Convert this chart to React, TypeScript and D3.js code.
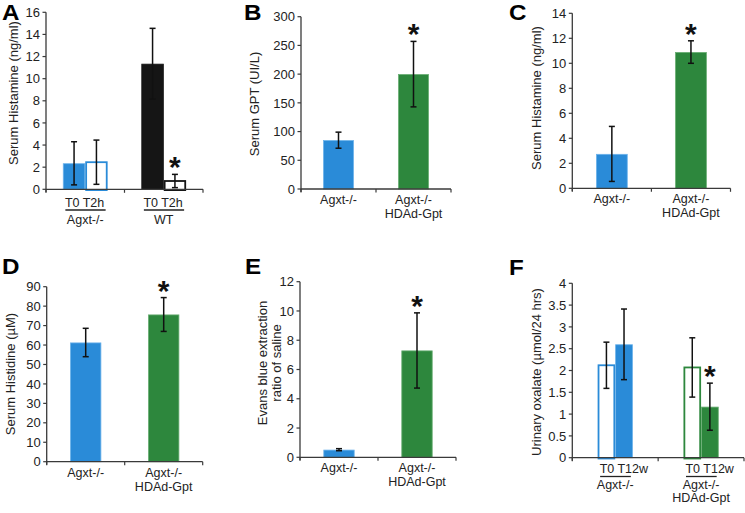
import React from "react";
import * as d3 from "d3";

const FONT = "'Liberation Sans', Arial, Helvetica, sans-serif";
const BLUE = "#2a8bd8";
const BLUE_EDGE = "#6cb2ea";
const GREEN = "#2d873d";
const GREEN_EDGE = "#68ad72";
const BLACK = "#151515";
const FS = 13;
const CFS = 12.5;

// ---- Data ----
const aGroups = ["Agxt-/-", "WT"];
const aTimes = "T0 T2h";
const aValues = [2.35, 2.45, 11.35, 0.75];
const aErrors = [1.95, 2.0, 3.2, 0.6];
const aTicks = [0, 2, 4, 6, 8, 10, 12, 14, 16];

const twoGroups = ["Agxt-/-", "Agxt-/-|HDAd-Gpt"];

const bValues = [85, 200];
const bErrors = [14, 57];
const bTicks = [0, 50, 100, 150, 200, 250, 300];

const cValues = [2.75, 10.9];
const cErrors = [2.2, 0.9];
const cTicks = [0, 2, 4, 6, 8, 10, 12, 14];

const dValues = [61.3, 75.7];
const dErrors = [7.3, 8.7];
const dTicks = [0, 10, 20, 30, 40, 50, 60, 70, 80, 90];

const eValues = [0.52, 7.3];
const eErrors = [0.07, 2.57];
const eTicks = [0, 2, 4, 6, 8, 10, 12];

const fTimes = "T0 T12w";
const fValues = [2.12, 2.6, 2.07, 1.17];
const fErrors = [0.53, 0.81, 0.68, 0.54];
const fTicks = [0, 0.5, 1, 1.5, 2, 2.5, 3, 3.5, 4];

type BarStyle = { fill: string; edge: string; outline: boolean };
const blueFill: BarStyle = { fill: BLUE, edge: BLUE_EDGE, outline: false };
const blueLine: BarStyle = { fill: BLUE, edge: BLUE, outline: true };
const greenFill: BarStyle = { fill: GREEN, edge: GREEN_EDGE, outline: false };
const greenLine: BarStyle = { fill: GREEN, edge: GREEN, outline: true };
const blackFill: BarStyle = { fill: BLACK, edge: BLACK, outline: false };
const blackLine: BarStyle = { fill: BLACK, edge: BLACK, outline: true };

type Spec = {
  letter: string;
  letterX: number;
  letterY: number;
  x0: number;
  x1: number;
  yTop: number;
  y0: number;
  ticks: number[];
  groups: string[];
  values: number[];
  errors: number[];
  styles: BarStyle[];
  perGroup: number;
  groupFrac: number;
  sub?: string;
  subOff?: [number, number, number];
  sig: number;
  yLabel: string[];
  yLabelX: number;
  yLabelY: number;
};

const specs: Spec[] = [
  {
    letter: "A", letterX: 2, letterY: 20,
    x0: 46, x1: 203, yTop: 12.3, y0: 189.3, ticks: aTicks,
    groups: aGroups, values: aValues, errors: aErrors,
    styles: [blueFill, blueLine, blackFill, blackLine], perGroup: 2, groupFrac: 0.57,
    sub: aTimes, subOff: [17.3, 20.7, 35], sig: 3,
    yLabel: ["Serum Histamine (ng/ml)"], yLabelX: 17.5, yLabelY: 93,
  },
  {
    letter: "B", letterX: 244, letterY: 20,
    x0: 301, x1: 451, yTop: 16.7, y0: 189, ticks: bTicks,
    groups: twoGroups, values: bValues, errors: bErrors,
    styles: [blueFill, greenFill], perGroup: 1, groupFrac: 0.41,
    sig: 1,
    yLabel: ["Serum GPT (UI/L)"], yLabelX: 259, yLabelY: 104,
  },
  {
    letter: "C", letterX: 509, letterY: 20,
    x0: 572.3, x1: 730.5, yTop: 13.3, y0: 188.3, ticks: cTicks,
    groups: twoGroups, values: cValues, errors: cErrors,
    styles: [blueFill, greenFill], perGroup: 1, groupFrac: 0.4,
    sig: 1,
    yLabel: ["Serum Histamine (ng/ml)"], yLabelX: 541, yLabelY: 98,
  },
  {
    letter: "D", letterX: 2, letterY: 274,
    x0: 46.7, x1: 202.7, yTop: 286.7, y0: 461.7, ticks: dTicks,
    groups: twoGroups, values: dValues, errors: dErrors,
    styles: [blueFill, greenFill], perGroup: 1, groupFrac: 0.4,
    sig: 1,
    yLabel: ["Serum Histidine (\u00b5M)"], yLabelX: 15, yLabelY: 374,
  },
  {
    letter: "E", letterX: 245, letterY: 274,
    x0: 300, x1: 456, yTop: 281.7, y0: 457.3, ticks: eTicks,
    groups: twoGroups, values: eValues, errors: eErrors,
    styles: [blueFill, greenFill], perGroup: 1, groupFrac: 0.4,
    sig: 1,
    yLabel: ["Evans blue extraction", "ratio of saline"], yLabelX: 267, yLabelY: 363,
  },
  {
    letter: "F", letterX: 509, letterY: 275,
    x0: 572.3, x1: 744, yTop: 283.3, y0: 457.7, ticks: fTicks,
    groups: twoGroups, values: fValues, errors: fErrors,
    styles: [blueLine, blueFill, greenLine, greenFill], perGroup: 2, groupFrac: 0.41,
    sub: fTimes, subOff: [15.5, 18.8, 31.5], sig: 3,
    yLabel: ["Urinary oxalate (\u00b5mol/24 hrs)"], yLabelX: 541, yLabelY: 372,
  },
];

function Panel({ s }: { s: Spec }) {
  const max = s.ticks[s.ticks.length - 1];
  const y = d3.scaleLinear().domain([0, max]).range([s.y0, s.yTop]);
  const x = d3.scaleBand().domain(s.groups).range([s.x0, s.x1]).paddingInner(0).paddingOuter(0);
  const bw = x.bandwidth();
  const gw = bw * s.groupFrac;
  const barW = gw / s.perGroup;
  const axisColor = "#3a3a3a";

  const bars = s.values.map((v, i) => {
    const g = s.groups[Math.floor(i / s.perGroup)];
    const j = i % s.perGroup;
    const left = (x(g) as number) + bw / 2 - gw / 2 + j * barW;
    return { v, e: s.errors[i], left, cx: left + barW / 2, st: s.styles[i] };
  });

  const boundaries = d3.range(s.groups.length + 1).map((k) => s.x0 + k * bw);
  const sigBar = bars[s.sig];

  return (
    <g>
      <text x={s.letterX} y={s.letterY} fontFamily={FONT} fontWeight={900} fontSize={22}
        fill="#000" transform={`translate(${s.letterX},0) scale(1.1,1) translate(${-s.letterX},0)`}>
        {s.letter}
      </text>
      {/* bars */}
      {bars.map((b, i) =>
        b.st.outline ? (
          <rect key={i} x={b.left + 0.9} y={y(b.v)} width={barW - 1.8} height={s.y0 - y(b.v) + 0.8}
            fill="#fff" stroke={b.st.fill} strokeWidth={1.8} />
        ) : (
          <rect key={i} x={b.left + 0.4} y={y(b.v) + 0.4} width={barW - 0.8} height={s.y0 - y(b.v) - 0.4}
            fill={b.st.fill} stroke={b.st.edge} strokeWidth={0.8} />
        )
      )}
      {/* error bars */}
      {bars.map((b, i) => (
        <g key={"e" + i} stroke="#111" strokeWidth={1.5}>
          <line x1={b.cx} x2={b.cx} y1={y(b.v + b.e)} y2={y(Math.max(0, b.v - b.e))} />
          <line x1={b.cx - 3} x2={b.cx + 3} y1={y(b.v + b.e)} y2={y(b.v + b.e)} />
          {b.v - b.e > 0.02 ? (
            <line x1={b.cx - 3} x2={b.cx + 3} y1={y(b.v - b.e)} y2={y(b.v - b.e)} />
          ) : null}
        </g>
      ))}
      {/* y axis */}
      <line x1={s.x0} x2={s.x0} y1={s.yTop} y2={s.y0 + 3} stroke={axisColor} strokeWidth={1.3} />
      {s.ticks.map((t) => (
        <g key={"t" + t}>
          <line x1={s.x0 - 3.5} x2={s.x0} y1={y(t)} y2={y(t)} stroke={axisColor} strokeWidth={1.2} />
          <text x={s.x0 - 6} y={y(t)} dy="0.36em" textAnchor="end" fontFamily={FONT} fontSize={FS} fill="#222">
            {String(t)}
          </text>
        </g>
      ))}
      {/* x axis */}
      <line x1={s.x0} x2={s.x1} y1={s.y0} y2={s.y0} stroke={axisColor} strokeWidth={1.3} />
      {boundaries.map((bx, k) => (
        <line key={"b" + k} x1={bx} x2={bx} y1={s.y0} y2={s.y0 + 3.5} stroke={axisColor} strokeWidth={1.2} />
      ))}
      {/* category labels */}
      {s.groups.map((g, gi) => {
        const cx = (x(g) as number) + bw / 2;
        const lines = g.split("|");
        if (s.sub && s.subOff) {
          const gl = cx - gw / 2;
          const gr = cx + gw / 2;
          const [o1, o2, o3] = s.subOff;
          return (
            <g key={"c" + gi} fontFamily={FONT} fontSize={CFS} fill="#222">
              <text x={gl + 2} y={s.y0 + o1}>{s.sub}</text>
              <line x1={gl + 2.5} x2={gr - 2} y1={s.y0 + o2} y2={s.y0 + o2} stroke="#222" strokeWidth={1.3} />
              {lines.map((l, li) => (
                <text key={li} x={cx} y={s.y0 + o3 + li * 13} textAnchor="middle">{l}</text>
              ))}
            </g>
          );
        }
        return (
          <g key={"c" + gi} fontFamily={FONT} fontSize={CFS} fill="#222">
            {lines.map((l, li) => (
              <text key={li} x={cx} y={s.y0 + 15 + li * 14} textAnchor="middle">{l}</text>
            ))}
          </g>
        );
      })}
      {/* y label */}
      <g transform={`translate(${s.yLabelX},${s.yLabelY}) rotate(-90)`}>
        {s.yLabel.map((l, li) => (
          <text key={li} x={0} y={li * 13.5} textAnchor="middle" fontFamily={FONT} fontSize={FS} fill="#222">
            {l}
          </text>
        ))}
      </g>
      {/* significance */}
      <text x={sigBar.cx} y={y(sigBar.v + sigBar.e) + 3} textAnchor="middle" fontFamily={FONT}
        fontWeight={700} fontSize={30} fill="#111">
        *
      </text>
    </g>
  );
}

export default function App() {
  return (
    <svg width={745} height={513} viewBox="0 0 745 513"
      style={{ position: "absolute", left: 0, top: 0, background: "#fff", display: "block" }}>
      <rect width={745} height={513} fill="#fff" />
      {specs.map((s) => (
        <Panel key={s.letter} s={s} />
      ))}
    </svg>
  );
}
